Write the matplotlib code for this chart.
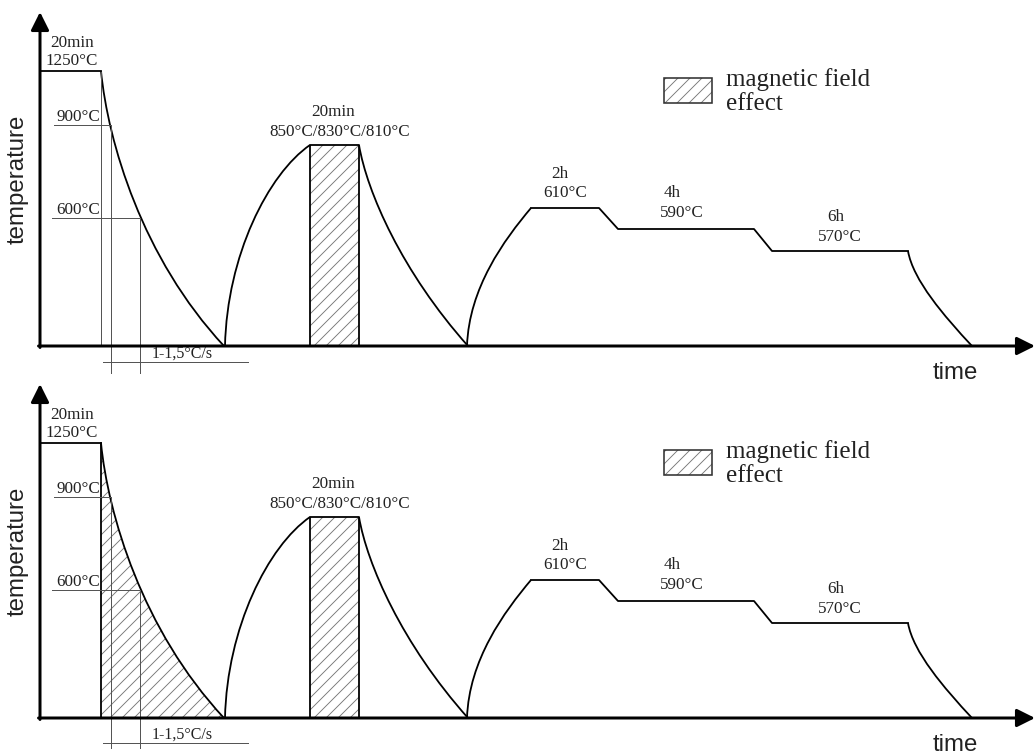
import matplotlib.pyplot as plt
from matplotlib.path import Path
from matplotlib.patches import PathPatch, Rectangle

# heat treatment schedule (schematic): time units along x, drawn height above the time axis
hold1_t = [40, 101]
hold1_h = 275
quench_pts = [(101, 275), (108, 204), (142, 88), (224, 0)]
heat2_pts = [(225, 0), (227, 90), (268, 172), (310, 201)]
hold2_t = [310, 359]
hold2_h = 201
cool2_pts = [(359, 201), (367, 154), (402, 74), (468, 0)]
heat3_pts = [(467, 0), (469, 58), (504, 106), (531, 138)]
temper_t = [531, 599, 618, 754, 772, 908]
temper_h = [138, 138, 117, 117, 95, 95]
cool3_pts = [(908, 95), (913, 66), (944, 30), (972, 0)]

# points marked on the quench curve
mark_t = [111, 140]
mark_h = [221, 128]
mark_lbl = ['900°C', '600°C']

# step labels
lbl_top = ['20min', '20min', '2h', '4h', '6h']
lbl_bot = ['1250°C', '850°C/830°C/810°C', '610°C', '590°C', '570°C']
rate_lbl = '1-1,5°C/s'
legend_lbl = ['magnetic field', 'effect']

# layout
lbl_x_top = [72, 333, 560, 672, 836]
lbl_x_bot = [72, 340, 565, 682, 840]
lbl_h_top = [303, 234, 172, 153, 129]
lbl_h_bot = [285, 214, 153, 133, 109]

serif = 'Liberation Serif'
sans = 'Liberation Sans'
tcol = '#222222'
thin = '#555555'

plt.rcParams['hatch.linewidth'] = 0.9

fig = plt.figure(figsize=(1035 / 72, 756 / 72), dpi=72)


def bez(pts):
    return Path(pts, [Path.MOVETO, Path.CURVE4, Path.CURVE4, Path.CURVE4])


def panel(ax, hatched_quench, rate_h, rate_txt_h, vbot):
    ax.set_xlim(0, 1035)
    ax.axis('off')

    # magnetic field regions
    ax.add_patch(Rectangle((hold2_t[0], 0), hold2_t[1] - hold2_t[0], hold2_h,
                           facecolor='none', edgecolor='#777777', lw=0, hatch='//'))
    if hatched_quench:
        verts = [(quench_pts[0][0], 0)] + quench_pts + [(quench_pts[0][0], 0)]
        codes = [Path.MOVETO, Path.LINETO, Path.CURVE4, Path.CURVE4, Path.CURVE4, Path.CLOSEPOLY]
        ax.add_patch(PathPatch(Path(verts, codes), facecolor='none',
                               edgecolor='#777777', lw=0, hatch='//'))

    # thin construction lines
    ax.plot([hold1_t[1], hold1_t[1]], [0, hold1_h],
            color='k' if hatched_quench else thin, lw=1.8 if hatched_quench else 1.0)
    ax.plot([54, mark_t[0]], [mark_h[0], mark_h[0]], color=thin, lw=1.0)
    ax.plot([52, mark_t[1]], [mark_h[1], mark_h[1]], color=thin, lw=1.0)
    for t, h in zip(mark_t, mark_h):
        ax.plot([t, t], [h, vbot], color=thin, lw=1.0)
    ax.plot([103, 248], [rate_h, rate_h], color=thin, lw=1.0)
    ax.text(182, rate_txt_h, rate_lbl, ha='center', va='baseline', fontsize=16,
            family=serif, color=tcol)
    for lbl, h in zip(mark_lbl, mark_h):
        ax.text(100, h + 8, lbl, ha='right', va='center', fontsize=17,
                family=serif, color=tcol)

    # temperature profile
    ax.plot(hold1_t, [hold1_h, hold1_h], color='k', lw=1.8)
    for pts in [quench_pts, heat2_pts, cool2_pts, heat3_pts, cool3_pts]:
        ax.add_patch(PathPatch(bez(pts), facecolor='none', edgecolor='k', lw=1.8))
    ax.plot([hold2_t[0], hold2_t[0], hold2_t[1], hold2_t[1]], [0, hold2_h, hold2_h, 0],
            color='k', lw=1.8)
    ax.plot(temper_t, temper_h, color='k', lw=1.8)

    for s, x, h in zip(lbl_top, lbl_x_top, lbl_h_top):
        ax.text(x, h, s, ha='center', va='center', fontsize=17, family=serif, color=tcol)
    for s, x, h in zip(lbl_bot, lbl_x_bot, lbl_h_bot):
        ax.text(x, h, s, ha='center', va='center', fontsize=17, family=serif, color=tcol)

    # legend
    ax.add_patch(Rectangle((664, 243), 48, 25, facecolor='none', edgecolor='#777777',
                           lw=0, hatch='//'))
    ax.add_patch(Rectangle((664, 243), 48, 25, facecolor='none', edgecolor='#333333', lw=1.6))
    ax.text(726, 260, legend_lbl[0], ha='left', va='baseline', fontsize=25,
            family=serif, color=tcol)
    ax.text(726, 236, legend_lbl[1], ha='left', va='baseline', fontsize=25,
            family=serif, color=tcol)

    # axes with arrows
    ax.annotate('', xy=(40, 334), xytext=(40, -1.5),
                arrowprops=dict(arrowstyle='-|>', lw=3, color='k', mutation_scale=38,
                                shrinkA=0, shrinkB=0))
    ax.annotate('', xy=(1035, 0), xytext=(38.5, 0),
                arrowprops=dict(arrowstyle='-|>', lw=3, color='k', mutation_scale=38,
                                shrinkA=0, shrinkB=0))
    ax.text(18, 167, 'temperature', rotation=90, ha='center', va='center',
            fontsize=24, family=sans, color=tcol)
    ax.text(955, -27, 'time', ha='center', va='center', fontsize=24, family=sans, color=tcol)


ax1 = fig.add_axes([0, 0.5, 1, 0.5])
ax1.set_ylim(-32, 346)
panel(ax1, False, -16, -12, -27)

ax2 = fig.add_axes([0, 0, 1, 0.5])
ax2.set_ylim(-38, 340)
panel(ax2, True, -25, -21, -30)

fig.savefig('out.png', dpi=72, facecolor='white')
